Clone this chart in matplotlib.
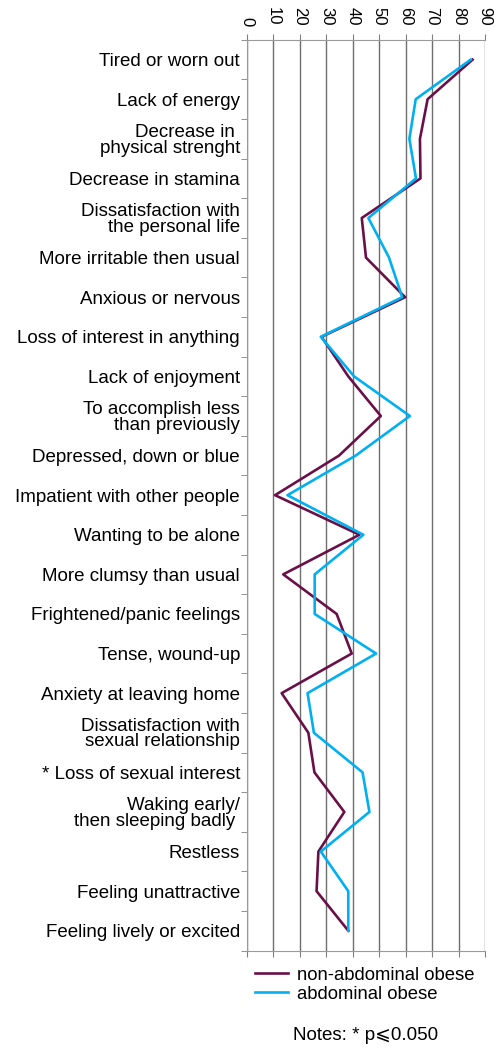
import numpy as np
import matplotlib
matplotlib.use("Agg")
import matplotlib.pyplot as plt
from matplotlib.ticker import FixedLocator

plt.rcParams['font.family'] = ['Liberation Sans', 'DejaVu Sans']

categories = [
    "Tired or worn out",
    "Lack of energy",
    "Decrease in \nphysical strenght",
    "Decrease in stamina",
    "Dissatisfaction with\nthe personal life",
    "More irritable then usual",
    "Anxious or nervous",
    "Loss of interest in anything",
    "Lack of enjoyment",
    "To accomplish less\nthan previously",
    "Depressed, down or blue",
    "Impatient with other people",
    "Wanting to be alone",
    "More clumsy than usual",
    "Frightened/panic feelings",
    "Tense, wound-up",
    "Anxiety at leaving home",
    "Dissatisfaction with\nsexual relationship",
    "* Loss of sexual interest",
    "Waking early/\nthen sleeping badly ",
    "Restless",
    "Feeling unattractive",
    "Feeling lively or excited",
]

non_abdominal = [85.3, 68.3, 65.4, 65.6, 43.4, 45.0, 59.8, 28.2, 38.3, 50.6, 34.8,
                 10.6, 42.5, 13.7, 33.9, 39.6, 13.1, 23.2, 25.5, 36.8, 27.0, 26.3, 38.3]
abdominal = [84.6, 63.8, 61.4, 63.9, 45.9, 53.7, 58.7, 27.9, 40.5, 61.6, 41.1,
             15.3, 44.0, 25.6, 25.6, 48.8, 22.9, 25.3, 43.7, 46.3, 27.9, 38.3, 38.3]

purple = "#6a1048"
blue = "#00b0f0"

fig = plt.figure(figsize=(5, 10.48), dpi=100)
ax = fig.add_axes([0.494, 0.093, 0.476, 0.869])

y = np.arange(len(categories))
ax.plot(non_abdominal, y, color=purple, lw=1.9, label="non-abdominal obese")
ax.plot(abdominal, y, color=blue, lw=1.9, label="abdominal obese")

ax.set_xlim(0, 90)
ax.set_ylim(len(categories) - 0.5, -0.5)

ax.xaxis.tick_top()
ax.set_xticks(np.arange(0, 91, 10))
ax.set_xticklabels([str(v) for v in range(0, 91, 10)], rotation=-90, fontsize=12)
ax.tick_params(axis='x', which='major', length=4, color="#808080", pad=6,
               bottom=True, top=True, direction='out')
ax.grid(axis='x', color="#6e6e6e", lw=1)

ax.set_yticks(y)
ax.set_yticklabels(categories, fontsize=13.5, linespacing=0.9)
ax.tick_params(axis='y', which='major', length=0, pad=5)
ax.yaxis.set_minor_locator(FixedLocator(np.arange(-0.5, len(categories), 1)))
ax.tick_params(axis='y', which='minor', length=4, color="#808080", direction='out')

for side in ['top', 'bottom', 'left']:
    ax.spines[side].set_color("#9a9a9a")
ax.spines['right'].set_visible(False)

fig.legend(loc='upper left', bbox_to_anchor=(0.51, 0.0777), frameon=False,
           fontsize=13.3, handlelength=1.8, labelspacing=0.12, handletextpad=0.48,
           borderpad=0, borderaxespad=0)
fig.text(0.732, 0.0124, "Notes: * p\u2a7d0.050", fontsize=13.5, ha='center', va='center')

fig.savefig("out.png", dpi=100)
